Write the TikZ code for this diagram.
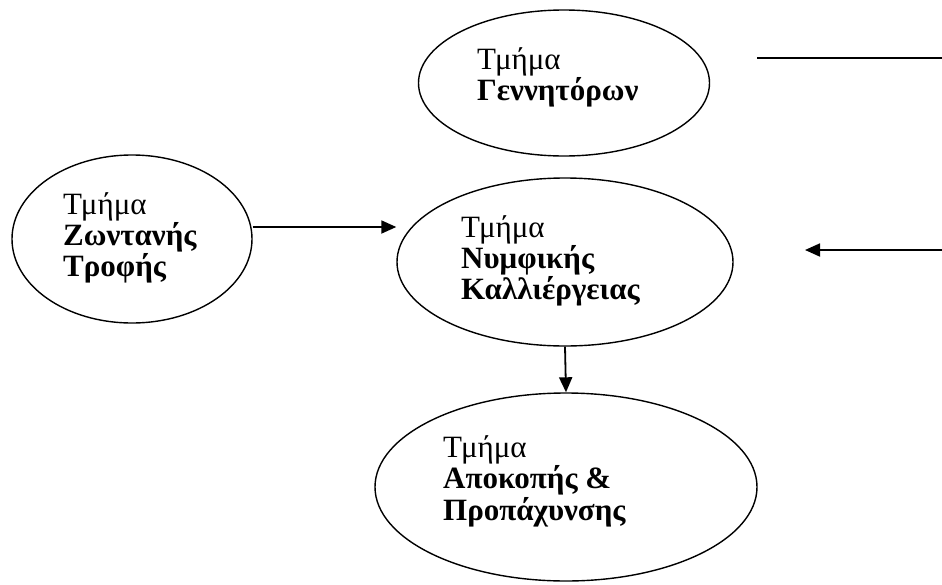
\documentclass[tikz,border=0pt]{standalone}
\usepackage{fontspec}
\setmainfont{Liberation Serif}
\usetikzlibrary{shapes.geometric,arrows.meta}
\tikzset{
  dept/.style={draw=black, line width=1.4pt, ellipse, inner sep=0pt},
  ln/.style={anchor=base west, inner sep=0pt, font=\fontsize{31}{33}\selectfont},
  bln/.style={ln, font=\fontsize{31}{33}\selectfont\bfseries},
  conn/.style={line width=1.8pt, -{Triangle[length=15pt,width=13pt]}},
  plain/.style={line width=1.4pt}
}
\begin{document}
\begin{tikzpicture}[x=1pt,y=-1pt]
\useasboundingbox (0,0) rectangle (942,584);
\node[dept, minimum width=291pt, minimum height=146pt] (gen) at (564,83) {};
\node[dept, minimum width=240pt, minimum height=168pt] (zoo) at (132,239) {};
\node[dept, minimum width=336pt, minimum height=168pt] (nym) at (565,262) {};
\node[dept, minimum width=382pt, minimum height=188pt] (apo) at (566,487) {};
% top
\node[ln]  (g1) at (477,69) {Τμήμα};
\node[bln] (g2) at (477,100) {Γεννητόρων};
% left
\node[ln]  (z1) at (63,214) {Τμήμα};
\node[bln] (z2) at (63,245) {Ζωντανής};
\node[bln] (z3) at (63,276) {Τροφής};
% middle
\node[ln]  (n1) at (461,237) {Τμήμα};
\node[bln] (n2) at (461,268) {Νυμφικής};
\node[bln] (n3) at (461,299) {Καλλιέργειας};
% bottom
\node[ln]  (a1) at (443,457) {Τμήμα};
\node[bln] (a2) at (443,488) {Αποκοπής \&};
\node[bln] (a3) at (443,520) {Προπάχυνσης};
\coordinate (l1) at (757,58);
\coordinate (l2) at (942,58);
\coordinate (r1) at (942,250);
\coordinate (r2) at (805,250);
\draw[plain] (l1) -- (l2);
\draw[conn] (r1) -- (r2);
\draw[conn] (zoo.east |- 0,227) -- (nym.west |- 0,227);
\draw[conn] (nym.south) -- (apo.north);
\end{tikzpicture}
\end{document}
